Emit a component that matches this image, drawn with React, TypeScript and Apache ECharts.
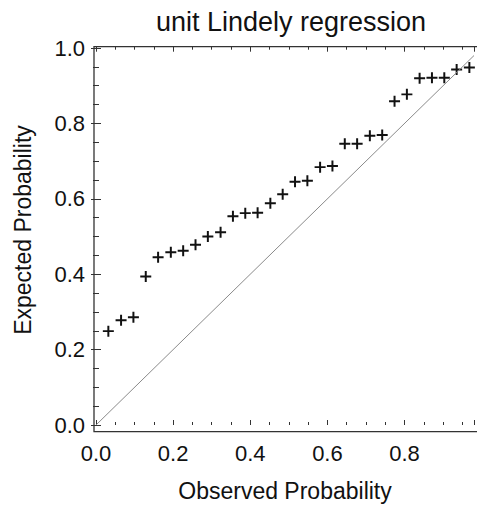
import React, { useEffect, useRef } from "react";
import * as echarts from "echarts";

const observed = [0.032, 0.065, 0.097, 0.129, 0.161, 0.194, 0.226, 0.258, 0.29, 0.323, 0.355, 0.387, 0.419, 0.452, 0.484, 0.516, 0.548, 0.581, 0.613, 0.645, 0.677, 0.71, 0.742, 0.774, 0.806, 0.839, 0.871, 0.903, 0.935, 0.968];
const expected = [0.249, 0.278, 0.286, 0.394, 0.445, 0.458, 0.462, 0.478, 0.5, 0.511, 0.554, 0.562, 0.563, 0.588, 0.612, 0.645, 0.648, 0.684, 0.687, 0.746, 0.746, 0.767, 0.769, 0.859, 0.877, 0.92, 0.921, 0.921, 0.943, 0.948];
const diagonalX = [0, 0.98];
const diagonalY = [0, 0.98];
const xTickLabels = ["0.0", "0.2", "0.4", "0.6", "0.8"];
const yTickLabels = ["0.0", "0.2", "0.4", "0.6", "0.8", "1.0"];

const FONT = "'Liberation Sans', Arial, sans-serif";
const INK = "#111";
const FRAME = "#333";
const PLUS = "path://M4.1,0H5.9V4.1H10V5.9H5.9V10H4.1V5.9H0V4.1H4.1Z";

function labelFor(list: string[]) {
  return (v: number) => {
    const s = v.toFixed(1);
    return Math.abs(v - parseFloat(s)) < 1e-6 && list.indexOf(s) >= 0 ? s : "";
  };
}

export default function App() {
  const ref = useRef<HTMLDivElement>(null);
  useEffect(() => {
    if (!ref.current) return;
    const chart = echarts.init(ref.current, undefined, { renderer: "svg" });
    const tickStyle = { color: FRAME, width: 1 };
    const xBase = {
      type: "value" as const,
      min: 0,
      max: 0.98,
      splitLine: { show: false },
      axisLine: { show: false },
    };
    const yBase = {
      type: "value" as const,
      min: 0,
      max: 1,
      interval: 0.2,
      splitLine: { show: false },
      axisLine: { show: false },
      minorTick: { show: true, splitNumber: 4, length: 3, lineStyle: tickStyle },
    };
    chart.setOption({
      animation: false,
      backgroundColor: "#fff",
      title: {
        text: "unit Lindely regression",
        left: 286,
        textAlign: "center",
        top: 3,
        textStyle: { fontFamily: FONT, fontSize: 27, fontWeight: "normal", color: INK },
      },
      grid: { left: 96, right: 0, top: 48, bottom: 87 },
      xAxis: [
        {
          ...xBase,
          position: "bottom",
          offset: 6.7,
          interval: 0.2,
          axisTick: { inside: true, length: 5, lineStyle: tickStyle },
          axisLabel: {
            formatter: labelFor(xTickLabels),
            margin: 11,
            fontSize: 22,
            fontFamily: FONT,
            color: INK,
          },
          name: "Observed Probability",
          nameLocation: "middle",
          nameGap: 48,
          nameTextStyle: { fontFamily: FONT, fontSize: 23, color: INK },
        },
        {
          ...xBase,
          position: "bottom",
          offset: 6.7,
          interval: 0.05,
          axisTick: { inside: true, length: 3, lineStyle: tickStyle },
          axisLabel: { show: false },
        },
        {
          ...xBase,
          position: "top",
          offset: 1.3,
          interval: 0.2,
          axisTick: { inside: true, length: 5, lineStyle: tickStyle },
          axisLabel: { show: false },
        },
        {
          ...xBase,
          position: "top",
          offset: 1.3,
          interval: 0.05,
          axisTick: { inside: true, length: 3, lineStyle: tickStyle },
          axisLabel: { show: false },
        },
      ],
      yAxis: [
        {
          ...yBase,
          position: "left",
          offset: 2,
          axisTick: { inside: true, length: 5, lineStyle: tickStyle },
          axisLabel: {
            formatter: labelFor(yTickLabels),
            margin: 9,
            fontSize: 22,
            fontFamily: FONT,
            color: INK,
          },
          name: "Expected Probability",
          nameLocation: "middle",
          nameGap: 60,
          nameTextStyle: { fontFamily: FONT, fontSize: 23, color: INK, padding: [0, 0, 0, 13] },
        },
        {
          ...yBase,
          position: "right",
          offset: 0,
          axisTick: { inside: true, length: 5, lineStyle: tickStyle },
          axisLabel: { show: false },
        },
      ],
      graphic: [
        {
          type: "rect",
          z: 100,
          silent: true,
          shape: { x: 94, y: 46.7, width: 392, height: 385 },
          style: { fill: "none", stroke: FRAME, lineWidth: 1.3 },
        },
      ],
      series: [
        {
          type: "line",
          xAxisIndex: 0,
          yAxisIndex: 0,
          data: diagonalX.map((x, i) => [x, diagonalY[i]]),
          symbol: "none",
          lineStyle: { color: "#8a8a8a", width: 1 },
          silent: true,
        },
        {
          type: "scatter",
          xAxisIndex: 0,
          yAxisIndex: 0,
          data: observed.map((x, i) => [x, expected[i]]),
          symbol: PLUS,
          symbolSize: 11,
          itemStyle: { color: INK, opacity: 1 },
        },
      ],
    });
    return () => chart.dispose();
  }, []);
  return (
    <div
      ref={ref}
      style={{ position: "absolute", left: 0, top: 0, width: 477, height: 512 }}
    />
  );
}
